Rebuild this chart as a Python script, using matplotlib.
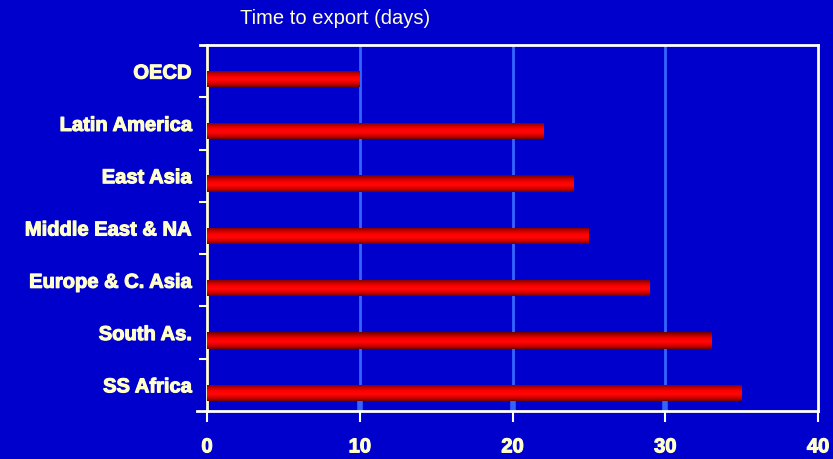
import numpy as np
import matplotlib
matplotlib.use("Agg")
import matplotlib.pyplot as plt
import matplotlib.patheffects as pe
from matplotlib.colors import LinearSegmentedColormap

# Regions and days to export
regions = ['OECD', 'Latin America', 'East Asia', 'Middle East & NA',
           'Europe & C. Asia', 'South As.', 'SS Africa']
days = [10, 22, 24, 25, 29, 33, 35]
xticks = [0, 10, 20, 30, 40]

bg = '#0000CC'
cream = '#FFFFCC'
grid_blue = '#3366FF'

plt.rcParams['font.family'] = ['Liberation Sans', 'DejaVu Sans']

fig = plt.figure(figsize=(8.33, 4.59), dpi=100, facecolor=bg)
ax = fig.add_axes([0.2485, 0.1046, 0.7335, 0.7974], facecolor=bg)

pos = np.arange(len(regions))
bars = ax.barh(pos + 0.15, days, height=0.31, color='#FF0000', zorder=3)

# cylinder shading on each bar
shade = LinearSegmentedColormap.from_list(
    'cyl', ['#6A0000', '#C00000', '#FF0000', '#FF0808', '#D80000', '#700000'])
grad = np.linspace(0, 1, 64).reshape(-1, 1)
for b in bars:
    x0, y0 = b.get_x(), b.get_y()
    w, h = b.get_width(), b.get_height()
    im = ax.imshow(grad, cmap=shade, aspect='auto', interpolation='bilinear',
                   extent=(x0, x0 + w, y0 + h, y0), zorder=4)
    im.set_clip_path(b)

ax.set_xlim(0, 40)
ax.set_ylim(len(regions) - 0.5, -0.5)

ax.set_xticks(xticks)
ax.set_xticklabels([str(t) for t in xticks])
ax.set_yticks(pos)
ax.set_yticklabels(regions)
ax.set_yticks(pos[:-1] + 0.5, minor=True)

thick = [pe.withStroke(linewidth=0.8, foreground=cream)]
for lab in ax.get_xticklabels() + ax.get_yticklabels():
    lab.set_fontweight('bold')
    lab.set_color(cream)
    lab.set_path_effects(thick)
for lab in ax.get_xticklabels():
    lab.set_fontsize(14.5)
for lab in ax.get_yticklabels():
    lab.set_fontsize(14.5)

ax.tick_params(axis='y', which='major', length=0, pad=11)
ax.tick_params(axis='y', which='minor', length=6, width=1.5, color=cream,
               direction='out')
ax.tick_params(axis='x', which='major', length=8, width=1.5, color='white',
               direction='out', pad=11)

for x in xticks[1:-1]:
    ax.axvline(x, color=grid_blue, lw=2, zorder=1)
    ax.plot([x, x], [6.5, 6.27], color=grid_blue, lw=4, zorder=2,
            solid_capstyle='butt')

ax.spines['top'].set_color('white')
ax.spines['bottom'].set_color('white')
ax.spines['left'].set_color(cream)
ax.spines['right'].set_color(cream)
for s in ax.spines.values():
    s.set_linewidth(2)

# spines run a little past the left edge, as in the original
ax.plot([-0.65, 0], [6.5, 6.5], color='white', lw=2, clip_on=False)
ax.plot([-0.45, 0], [-0.5, -0.5], color='white', lw=2, clip_on=False)

fig.text(0.288, 0.96, 'Time to export (days)', color=cream, fontsize=14.5,
         ha='left', va='center')

fig.savefig('out.png', dpi=100, facecolor=bg)
